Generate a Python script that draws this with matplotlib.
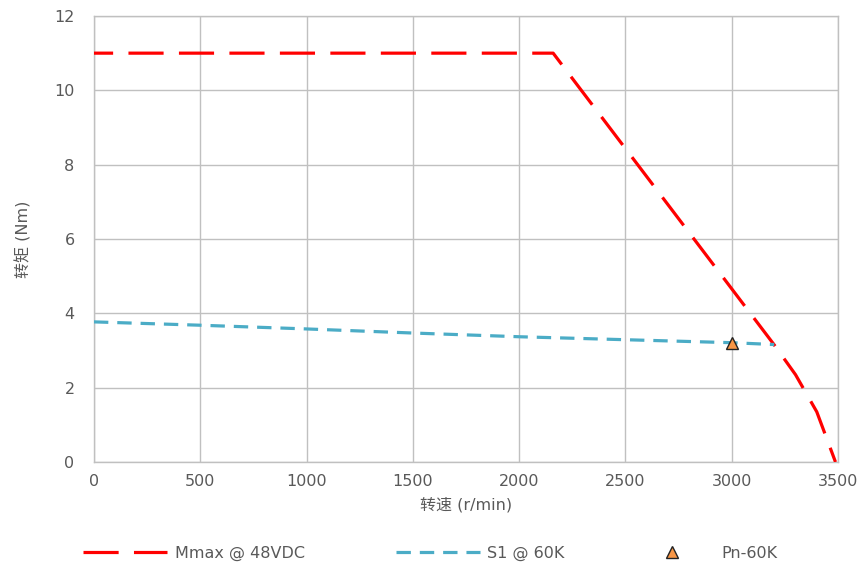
import matplotlib
matplotlib.use("Agg")
import matplotlib.pyplot as plt
from matplotlib.lines import Line2D

plt.rcParams['font.family'] = ['DejaVu Sans', 'Noto Sans CJK SC']

mmax_x = [0, 2160, 3200, 3300, 3400, 3488]
mmax_y = [11.0, 11.0, 3.15, 2.35, 1.35, 0.0]
s1_x = [0, 500, 1000, 1500, 2000, 2500, 3000, 3200]
s1_y = [3.77, 3.68, 3.58, 3.47, 3.37, 3.29, 3.21, 3.16]
pn_x = [3000]
pn_y = [3.2]
xticks = [0, 500, 1000, 1500, 2000, 2500, 3000, 3500]
yticks = [0, 2, 4, 6, 8, 10, 12]

txt = '#595959'
grid = '#c0c0c0'
fs = 11.5

fig = plt.figure(figsize=(8.66, 5.63), dpi=100)
ax = fig.add_axes([0.1085, 0.1794, 0.8592, 0.7922])

ax.plot(mmax_x, mmax_y, color='#ff0000', lw=2.3, linestyle=(5, (11, 4.8)), zorder=3)
l2, = ax.plot(s1_x, s1_y, color='#4bacc6', lw=2.3, dashes=(4.5, 2.8), label='S1 @ 60K', zorder=3)
l3, = ax.plot(pn_x, pn_y, linestyle='none', marker='^', markersize=9, markerfacecolor='#f79646',
              markeredgecolor='#222222', markeredgewidth=1.0, label='Pn-60K', zorder=4)
l1 = Line2D([], [], color='#ff0000', lw=2.3, dashes=(11, 4.8), label='Mmax @ 48VDC')

ax.set_xlim(0, 3500)
ax.set_ylim(0, 12)
ax.set_xticks(xticks)
ax.set_yticks(yticks)
ax.grid(True, color=grid, lw=1.0)
ax.set_axisbelow(True)
for s in ax.spines.values():
    s.set_color(grid)
    s.set_linewidth(1.0)
ax.tick_params(length=0, labelsize=fs, colors=txt)
ax.tick_params(axis='x', pad=9)
ax.tick_params(axis='y', pad=14)
ax.set_xlabel('转速 (r/min)', fontsize=fs, color=txt, va='center')
ax.set_ylabel('转矩 (Nm)', fontsize=fs, color=txt, va='center')
ax.xaxis.set_label_coords(0.5, -0.096)
ax.yaxis.set_label_coords(-0.095, 0.5)

W = 866.0
ly = (563 - 553) / 563.0
specs = [(l1, 83, 5.25, 0.5), (l2, 396, 5.25, 0.45), (l3, 656, 2.0, 2.1)]
for h, xpx, hl, tp in specs:
    lg = fig.legend(handles=[h], loc='center left', bbox_to_anchor=(xpx / W, ly),
                    frameon=False, fontsize=fs, handlelength=hl, handletextpad=tp,
                    borderpad=0, borderaxespad=0)
    for t in lg.get_texts():
        t.set_color(txt)

fig.savefig('out.png', dpi=100)
